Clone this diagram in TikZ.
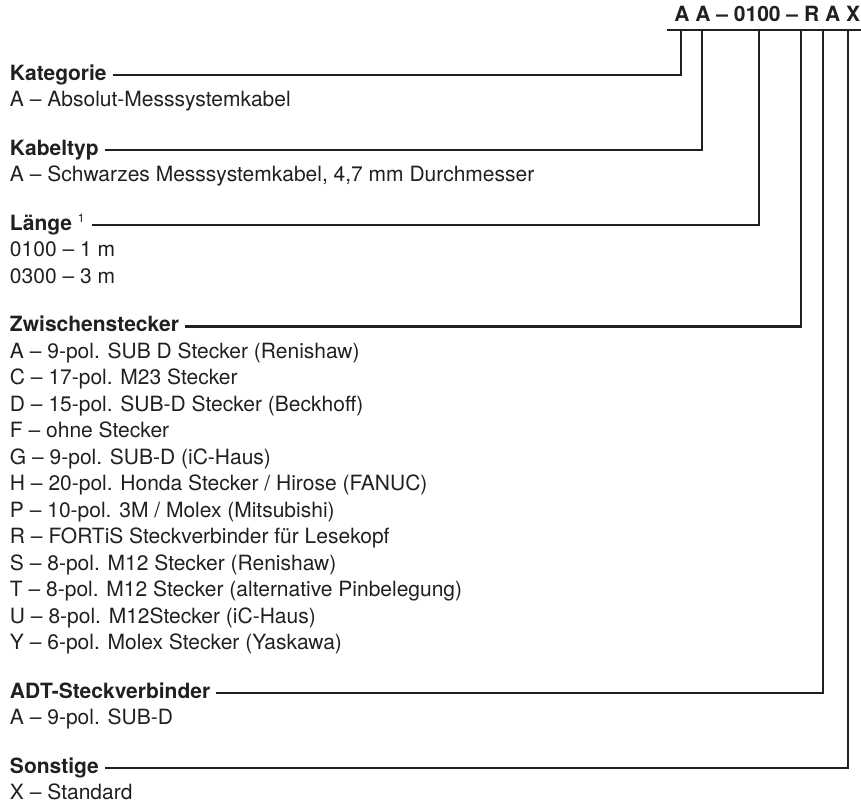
\documentclass[tikz,border=0pt]{standalone}
\usepackage{fontspec}
\setmainfont{TeX Gyre Heros}
\usetikzlibrary{positioning}
\definecolor{inkblack}{HTML}{231F20}

\begin{document}
\begin{tikzpicture}[
  x=0.5pt, y=-0.5pt,
  every node/.style={inner sep=0pt, outer sep=0pt, text=inkblack, font=\fontsize{10.5}{12}\selectfont},
  entry/.style={text height=9.5pt, text depth=3.75pt, anchor=north west},
  headbox/.style={entry, font=\fontsize{10.5}{12}\selectfont\bfseries},
  lead/.style={draw=inkblack, line width=1.15pt},
]
\useasboundingbox (0,0) rectangle (861,809);

% Order code and its bar
\node[font=\fontsize{10.5}{12}\selectfont\bfseries, anchor=base east] (code) at (860,21) {A A – 0100 – R A X};
\coordinate (barL) at (667,30);
\coordinate (barR) at (861,30);
\foreach \n/\x in {dKat/681, dTyp/702, dLen/759, dZws/801, dAdt/823, dSon/848}
  \coordinate (\n) at (\x,30);

% Kategorie
\node[headbox, anchor=base west] (kat) at (10,80) {Kategorie};
\node[entry, below=0pt of kat.south west, anchor=north west] (kat1) {A – Absolut-Messsystemkabel};

% Kabeltyp
\node[headbox, below=11pt of kat1.south west, anchor=north west] (typ) {Kabeltyp};
\node[entry, below=0pt of typ.south west, anchor=north west] (typ1) {A – Schwarzes Messsystemkabel, 4,7 mm Durchmesser};

% Laenge
\node[headbox, below=11pt of typ1.south west, anchor=north west] (len) {Länge \textsuperscript{\mdseries\fontsize{6}{6}\selectfont 1}};
\node[entry, below=0pt of len.south west, anchor=north west] (len1) {0100 – 1 m};
\node[entry, below=0pt of len1.south west, anchor=north west] (len2) {0300 – 3 m};

% Zwischenstecker
\node[headbox, below=11pt of len2.south west, anchor=north west, alias=zws0] (zws) {Zwischenstecker};
\foreach \txt [count=\i, remember=\i as \j (initially 0)] in {
    A – 9-pol. SUB D Stecker (Renishaw),
    C – 17-pol. M23 Stecker,
    D – 15-pol. SUB-D Stecker (Beckhoff),
    F – ohne Stecker,
    G – 9-pol. SUB-D (iC-Haus),
    {H – 20-pol. Honda Stecker / Hirose (FANUC)},
    {P – 10-pol. 3M / Molex (Mitsubishi)},
    R – FORTiS Steckverbinder für Lesekopf,
    S – 8-pol. M12 Stecker (Renishaw),
    T – 8-pol. M12 Stecker (alternative Pinbelegung),
    U – 8-pol. M12Stecker (iC-Haus),
    Y – 6-pol. Molex Stecker (Yaskawa)}
  \node[entry, below=0pt of zws\j.south west, anchor=north west] (zws\i) {\txt};

% ADT-Steckverbinder
\node[headbox, below=11pt of zws12.south west, anchor=north west] (adt) {ADT-Steckverbinder};
\node[entry, below=0pt of adt.south west, anchor=north west] (adt1) {A – 9-pol. SUB-D};

% Sonstige
\node[headbox, below=11pt of adt1.south west, anchor=north west] (son) {Sonstige};
\node[entry, below=0pt of son.south west, anchor=north west] (son1) {X – Standard};

% Leader lines
\draw[lead] (barL) -- (barR);
\foreach \h/\d in {kat/dKat, typ/dTyp, len/dLen, zws/dZws, adt/dAdt, son/dSon}
  \draw[lead] ([xshift=3pt, yshift=2.5pt]\h.base east) -| (\d);
\end{tikzpicture}
\end{document}
